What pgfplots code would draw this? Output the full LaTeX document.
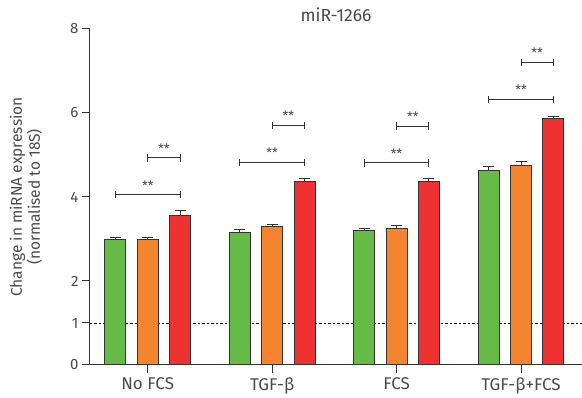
\documentclass[border=0pt]{standalone}
\usepackage{pgfplots}
\pgfplotsset{compat=1.18}
\usepackage{fontspec}
\setmainfont{Fira Sans}
\definecolor{cgreen}{HTML}{66BB46}
\definecolor{corange}{HTML}{F4842E}
\definecolor{cred}{HTML}{EE3231}
\definecolor{ctext}{HTML}{4A4A4A}
\definecolor{cline}{HTML}{333333}
\tikzset{brk/.style={cline, line width=1pt}, star/.style={text=ctext, font=\fontsize{13}{13}\selectfont, anchor=south, inner sep=0pt}}
\begin{document}
\begin{tikzpicture}
\useasboundingbox (-90pt,-33pt) rectangle (492pt,365pt);
\begin{axis}[
  scale only axis,
  width=492pt, height=336pt,
  xmin=-0.464, xmax=3.49,
  ymin=0, ymax=8,
  axis x line=bottom, axis y line=left,
  axis line style={-, draw=cline, line width=1pt},
  ytick={0,1,2,4,6,8},
  xtick={0,1,2,3},
  xticklabels={No FCS, TGF-β, FCS, TGF-β+FCS},
  tick align=outside,
  major tick length=8pt,
  tick style={draw=cline, line width=1pt},
  /pgf/number format/assume math mode=true,
  yticklabel style={font=\fontsize{15}{17}\selectfont, text=ctext, xshift=-0pt},
  xticklabel style={font=\fontsize{17}{19}\selectfont, text=ctext, yshift=-1pt},
  title={miR-1266},
  title style={font=\fontsize{17.5}{19}\selectfont, text=ctext, at={(axis description cs:0.5,1)}, anchor=base, yshift=1pt},
  ylabel={Change in miRNA expression\\(normalised to 18S)},
  ylabel style={font=\fontsize{15.5}{18}\selectfont, text=ctext, align=center, at={(axis description cs:-0.09,0.5)}, anchor=south},
  clip=false,
  mybar/.style={ybar, bar width=0.169, bar shift=0pt, draw=cline, line width=1pt,
    error bars/y dir=plus, error bars/y explicit,
    error bars/error bar style={draw=cline, line width=1pt},
    error bars/error mark options={rotate=90, draw=cline, line width=1pt, mark size=5.5pt}},
]
\addplot[draw=black, line width=0.8pt, dash pattern=on 2.5pt off 2pt, forget plot] coordinates {(-0.464,1) (3.49,1)};

\addplot[mybar, fill=cgreen] table[x=x, y=y, y error=e] {
x y e
-0.26 2.98 0.05
0.74 3.16 0.06
1.74 3.20 0.05
2.74 4.64 0.09
};
\addplot[mybar, fill=corange] table[x=x, y=y, y error=e] {
x y e
0 2.99 0.04
1 3.30 0.04
2 3.26 0.07
3 4.75 0.09
};
\addplot[mybar, fill=cred] table[x=x, y=y, y error=e] {
x y e
0.26 3.57 0.10
1.26 4.38 0.05
2.26 4.38 0.05
3.26 5.87 0.05
};

% significance brackets - group 0
\draw[brk] (axis cs:-0.26,3.965) -- (axis cs:-0.26,4.135) (axis cs:-0.26,4.05) -- (axis cs:0.26,4.05) (axis cs:0.26,3.965) -- (axis cs:0.26,4.135);
\node[star] at (axis cs:0,4.15) {**};
\draw[brk] (axis cs:0,4.845) -- (axis cs:0,5.015) (axis cs:0,4.93) -- (axis cs:0.26,4.93) (axis cs:0.26,4.845) -- (axis cs:0.26,5.015);
\node[star] at (axis cs:0.13,5.03) {**};
% group 1
\draw[brk] (axis cs:0.74,4.745) -- (axis cs:0.74,4.915) (axis cs:0.74,4.83) -- (axis cs:1.26,4.83) (axis cs:1.26,4.745) -- (axis cs:1.26,4.915);
\node[star] at (axis cs:1,4.93) {**};
\draw[brk] (axis cs:1,5.625) -- (axis cs:1,5.795) (axis cs:1,5.71) -- (axis cs:1.26,5.71) (axis cs:1.26,5.625) -- (axis cs:1.26,5.795);
\node[star] at (axis cs:1.13,5.81) {**};
% group 2
\draw[brk] (axis cs:1.74,4.725) -- (axis cs:1.74,4.895) (axis cs:1.74,4.81) -- (axis cs:2.26,4.81) (axis cs:2.26,4.725) -- (axis cs:2.26,4.895);
\node[star] at (axis cs:2,4.91) {**};
\draw[brk] (axis cs:2,5.605) -- (axis cs:2,5.775) (axis cs:2,5.69) -- (axis cs:2.26,5.69) (axis cs:2.26,5.605) -- (axis cs:2.26,5.775);
\node[star] at (axis cs:2.13,5.79) {**};
% group 3
\draw[brk] (axis cs:2.74,6.245) -- (axis cs:2.74,6.415) (axis cs:2.74,6.33) -- (axis cs:3.26,6.33) (axis cs:3.26,6.245) -- (axis cs:3.26,6.415);
\node[star] at (axis cs:3,6.43) {**};
\draw[brk] (axis cs:3,7.125) -- (axis cs:3,7.295) (axis cs:3,7.21) -- (axis cs:3.26,7.21) (axis cs:3.26,7.125) -- (axis cs:3.26,7.295);
\node[star] at (axis cs:3.13,7.31) {**};
\end{axis}
\end{tikzpicture}
\end{document}
